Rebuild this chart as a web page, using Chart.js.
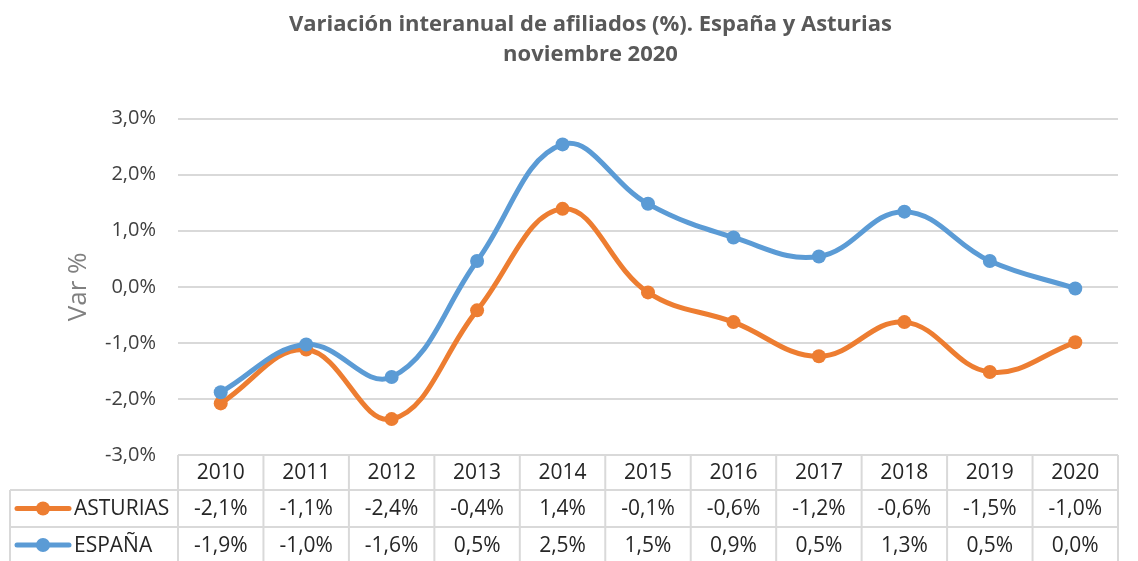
<!DOCTYPE html>
<html>
<head>
<meta charset="utf-8">
<script src="https://cdn.jsdelivr.net/npm/chart.js@4.4.1/dist/chart.umd.min.js"></script>
<style>
  body { margin: 0; background: #fff; }
  #wrap { width: 1138px; height: 561px; }
</style>
</head>
<body>
<div id="wrap"><canvas id="chart" width="1138" height="561"></canvas></div>
<script>
// Data
const years = ['2010', '2011', '2012', '2013', '2014', '2015', '2016', '2017', '2018', '2019', '2020'];
const asturias = [-2.08, -1.12, -2.36, -0.42, 1.39, -0.10, -0.63, -1.24, -0.63, -1.52, -0.99];
const espana = [-1.88, -1.03, -1.61, 0.46, 2.54, 1.48, 0.88, 0.54, 1.34, 0.46, -0.03];
const yTicks = [-3, -2, -1, 0, 1, 2, 3];

const ORANGE = '#ED7D31';
const BLUE = '#5B9BD5';
const GRID = '#d9d9d9';
const FONT = "'Open Sans', sans-serif";

function fmt(v) {
    let s = (Math.abs(v) < 0.05 ? 0 : v).toFixed(1);
    return s.replace('.', ',') + '%';
}

// Data table under the plot, aligned with the category scale
const tablePlugin = {
    id: 'dataTable',
    afterDraw(chart) {
        const ctx = chart.ctx;
        const x = chart.scales.x;
        const area = chart.chartArea;
        const colW = (area.right - area.left) / years.length;
        const top = area.bottom;
        const rows = [top, top + 35, top + 72, top + 108];
        const leftEdge = 10;

        ctx.save();
        ctx.strokeStyle = GRID;
        ctx.lineWidth = 2;

        // horizontal lines
        ctx.beginPath();
        ctx.moveTo(area.left, rows[0]); ctx.lineTo(area.right, rows[0]);
        ctx.moveTo(leftEdge, rows[1]); ctx.lineTo(area.right, rows[1]);
        ctx.moveTo(leftEdge, rows[2]); ctx.lineTo(area.right, rows[2]);
        ctx.stroke();

        // vertical lines
        ctx.beginPath();
        for (let i = 0; i <= years.length; i++) {
            const px = area.left + i * colW;
            ctx.moveTo(px, rows[0]); ctx.lineTo(px, rows[3]);
        }
        ctx.moveTo(leftEdge, rows[1]); ctx.lineTo(leftEdge, rows[3]);
        ctx.stroke();

        // cell text
        ctx.font = '21px ' + FONT;
        ctx.fillStyle = '#262626';
        ctx.textAlign = 'center';
        ctx.textBaseline = 'middle';
        years.forEach((yr, i) => {
            const cx = x.getPixelForValue(i);
            ctx.fillText(yr, cx, (rows[0] + rows[1]) / 2 + 1);
            ctx.fillText(fmt(asturias[i]), cx, (rows[1] + rows[2]) / 2 + 1);
            ctx.fillText(fmt(espana[i]), cx, (rows[2] + rows[3]) / 2 + 1);
        });

        // series keys
        const keys = [
            { label: 'ASTURIAS', color: ORANGE, y: (rows[1] + rows[2]) / 2 },
            { label: 'ESPAÑA', color: BLUE, y: (rows[2] + rows[3]) / 2 }
        ];
        keys.forEach(k => {
            ctx.strokeStyle = k.color;
            ctx.lineWidth = 5;
            ctx.lineCap = 'round';
            ctx.beginPath();
            ctx.moveTo(17, k.y); ctx.lineTo(69, k.y);
            ctx.stroke();
            ctx.fillStyle = k.color;
            ctx.beginPath();
            ctx.arc(43, k.y, 7, 0, Math.PI * 2);
            ctx.fill();
            ctx.fillStyle = '#262626';
            ctx.textAlign = 'left';
            ctx.fillText(k.label, 74, k.y + 1);
        });
        ctx.restore();
    }
};

new Chart(document.getElementById('chart'), {
    type: 'line',
    data: {
        labels: years,
        datasets: [
            {
                label: 'ASTURIAS',
                data: asturias,
                borderColor: ORANGE,
                backgroundColor: ORANGE,
                borderWidth: 5,
                pointRadius: 7,
                pointBorderWidth: 0,
                tension: 0.4,
                order: 2
            },
            {
                label: 'ESPAÑA',
                data: espana,
                borderColor: BLUE,
                backgroundColor: BLUE,
                borderWidth: 5,
                pointRadius: 7,
                pointBorderWidth: 0,
                tension: 0.4,
                order: 1
            }
        ]
    },
    options: {
        responsive: false,
        animation: false,
        layout: { padding: { left: 63, right: 20, top: 0, bottom: 106 } },
        plugins: {
            legend: { display: false },
            tooltip: { enabled: false },
            title: {
                display: true,
                text: ['Variación interanual de afiliados (%). España y Asturias', 'noviembre 2020'],
                color: '#595959',
                font: { family: FONT, size: 22, weight: 'bold', lineHeight: 1.4 },
                padding: { top: 9, bottom: 48 }
            }
        },
        scales: {
            x: {
                display: false,
                offset: true
            },
            y: {
                min: -3,
                max: 3,
                afterBuildTicks: (s) => { s.ticks = yTicks.map(v => ({ value: v })); },
                afterFit: (s) => { s.width = 115; },
                grid: { color: GRID, lineWidth: 2, drawTicks: false },
                border: { display: false },
                ticks: {
                    padding: 22,
                    color: '#404040',
                    font: { family: FONT, size: 20 },
                    callback: (v) => v.toFixed(1).replace('.', ',') + '%'
                },
                title: {
                    display: true,
                    text: 'Var %',
                    color: '#808080',
                    font: { family: FONT, size: 26 },
                    padding: { top: 0, bottom: 0 }
                }
            }
        }
    },
    plugins: [tablePlugin]
});
</script>
</body>
</html>
